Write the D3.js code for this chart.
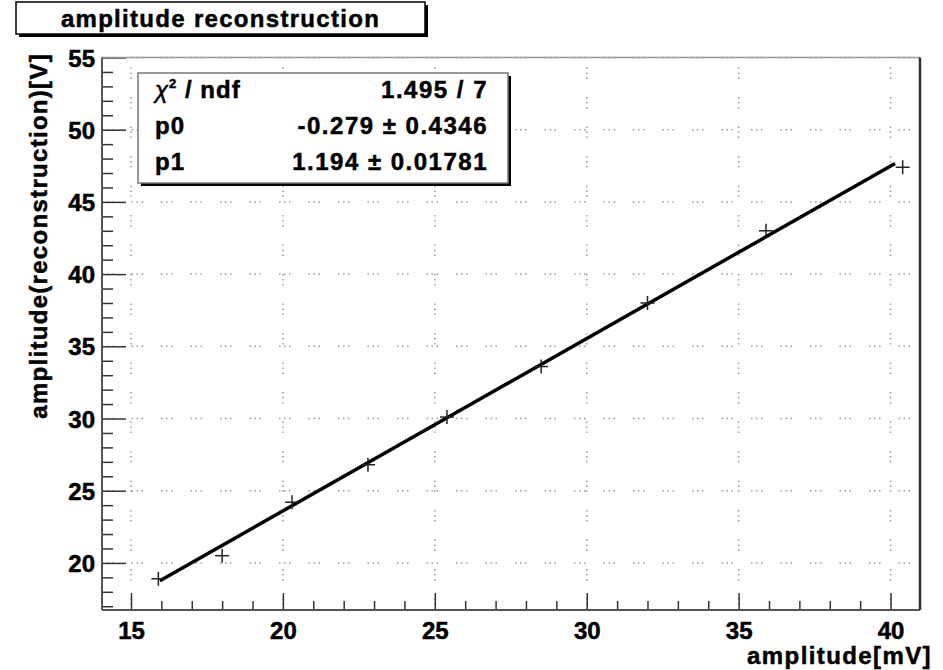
<!DOCTYPE html>
<html>
<head>
<meta charset="utf-8">
<title>amplitude reconstruction</title>
<script src="https://cdn.jsdelivr.net/npm/d3@7"></script>
<style>
  body { margin: 0; background: #fff; }
  text { font-family: "Liberation Sans", Arial, sans-serif; font-weight: bold; fill: #000; stroke: #000; stroke-width: 0.5px; }
</style>
</head>
<body>
<script>
// measured points (amplitude in mV, reconstructed amplitude in V)
var ampIn = [15.9, 18.0, 20.3, 22.8, 25.4, 28.5, 32.0, 35.9, 40.4];
var ampReco = [18.9, 20.5, 24.2, 26.8, 30.1, 33.6, 38.0, 43.0, 47.4];

// linear fit pol1: y = p0 + p1*x
var fitP0 = -0.279;
var fitP1 = 1.194;
var fitRange = [15.95, 40.15];

var xTicks = [15, 20, 25, 30, 35, 40];
var yTicks = [20, 25, 30, 35, 40, 45, 50, 55];

var statLabels = ['χ2 / ndf', 'p0', 'p1'];
var statValues = ['1.495 / 7', '-0.279 ± 0.4346', '1.194 ± 0.01781'];

var W = 943, H = 670;
var fx0 = 102, fx1 = 920, fy0 = 57.5, fy1 = 610;

var svg = d3.select('body').append('svg')
  .attr('width', W)
  .attr('height', H);

var x = d3.scaleLinear().domain([14.045, 40.97]).range([fx0, fx1]);
var y = d3.scaleLinear().domain([16.74, 55]).range([fy1, fy0]);

// grid (dotted)
var dash = '1.5,3.5,1.5,3.5,1.5,18';
svg.append('g').selectAll('line')
  .data(xTicks)
  .enter().append('line')
  .attr('x1', function(d) { return x(d); })
  .attr('x2', function(d) { return x(d); })
  .attr('y1', fy1)
  .attr('y2', fy0)
  .attr('stroke', '#9a9a9a')
  .attr('stroke-width', 1.5)
  .attr('stroke-dasharray', dash);

svg.append('g').selectAll('line')
  .data(yTicks)
  .enter().append('line')
  .attr('x1', fx0)
  .attr('x2', fx1)
  .attr('y1', function(d) { return y(d); })
  .attr('y2', function(d) { return y(d); })
  .attr('stroke', '#9a9a9a')
  .attr('stroke-width', 1.5)
  .attr('stroke-dasharray', dash);

// minor ticks
var xMinor = d3.range(15, 41, 1).filter(function(d) { return d % 5 != 0; });
var yMinor = d3.range(17, 55, 1).filter(function(d) { return d % 5 != 0; });

var xAxisMinor = d3.axisBottom(x).tickValues(xMinor).tickSizeInner(-9).tickSizeOuter(0).tickFormat('');
var yAxisMinor = d3.axisLeft(y).tickValues(yMinor).tickSizeInner(-11).tickSizeOuter(0).tickFormat('');
var xAxis = d3.axisBottom(x).tickValues(xTicks).tickSizeInner(-17).tickSizeOuter(0).tickPadding(6);
var yAxis = d3.axisLeft(y).tickValues(yTicks).tickSizeInner(-24).tickSizeOuter(0).tickPadding(7);

function styleAxis(g) {
  g.select('.domain').remove();
  g.selectAll('line').attr('stroke', '#333').attr('stroke-width', 1.5);
  g.selectAll('text')
    .style('font-family', '"Liberation Sans", Arial, sans-serif')
    .style('font-weight', 'bold')
    .style('font-size', '24px')
    .attr('fill', '#000');
}

svg.append('g').attr('transform', 'translate(0,' + fy1 + ')').call(xAxisMinor).call(styleAxis);
svg.append('g').attr('transform', 'translate(' + fx0 + ',0)').call(yAxisMinor).call(styleAxis);
var gx = svg.append('g').attr('transform', 'translate(0,' + fy1 + ')').call(xAxis).call(styleAxis);
var gy = svg.append('g').attr('transform', 'translate(' + fx0 + ',0)').call(yAxis).call(styleAxis);
gx.selectAll('text').attr('dy', '0.95em');
gy.selectAll('text').attr('dy', '0.36em');

// frame
svg.append('line').attr('x1', fx0).attr('x2', fx1).attr('y1', fy0).attr('y2', fy0)
  .attr('stroke', '#999').attr('stroke-width', 1.5);
svg.append('line').attr('x1', fx0).attr('x2', fx0).attr('y1', fy0).attr('y2', fy1)
  .attr('stroke', '#555').attr('stroke-width', 2);
svg.append('line').attr('x1', fx0).attr('x2', fx1).attr('y1', fy1).attr('y2', fy1)
  .attr('stroke', '#555').attr('stroke-width', 2);
svg.append('line').attr('x1', fx1).attr('x2', fx1).attr('y1', fy0).attr('y2', fy1)
  .attr('stroke', '#333').attr('stroke-width', 2.5);

// fit line
var fitPts = fitRange.map(function(v) { return [v, fitP0 + fitP1 * v]; });
svg.append('path')
  .datum(fitPts)
  .attr('d', d3.line().x(function(d) { return x(d[0]); }).y(function(d) { return y(d[1]); }))
  .attr('fill', 'none')
  .attr('stroke', '#000')
  .attr('stroke-width', 3.5);

// data markers (+)
var pts = ampIn.map(function(v, i) { return [v, ampReco[i]]; });
var mk = svg.append('g').selectAll('g')
  .data(pts)
  .enter().append('g')
  .attr('transform', function(d) { return 'translate(' + x(d[0]) + ',' + y(d[1]) + ')'; });
mk.append('line').attr('x1', -7).attr('x2', 7).attr('y1', 0).attr('y2', 0)
  .attr('stroke', '#222').attr('stroke-width', 1.5);
mk.append('line').attr('x1', 0).attr('x2', 0).attr('y1', -7).attr('y2', 7)
  .attr('stroke', '#222').attr('stroke-width', 1.5);

// title box
svg.append('rect').attr('x', 19).attr('y', 5).attr('width', 409).attr('height', 32).attr('fill', '#000');
svg.append('rect').attr('x', 16).attr('y', 2).attr('width', 409).attr('height', 32)
  .attr('fill', '#fff').attr('stroke', '#000').attr('stroke-width', 1.5);
svg.append('text')
  .attr('x', 220.5).attr('y', 27)
  .attr('text-anchor', 'middle')
  .style('font-size', '24px')
  .style('letter-spacing', '1.3px')
  .text('amplitude reconstruction');

// stats box
var sx0 = 138, sy0 = 73, sw = 370, sh = 110;
svg.append('rect').attr('x', sx0 + 3).attr('y', sy0 + 3).attr('width', sw).attr('height', sh).attr('fill', '#000');
svg.append('rect').attr('x', sx0).attr('y', sy0).attr('width', sw).attr('height', sh)
  .attr('fill', '#fff').attr('stroke', '#777').attr('stroke-width', 1.5);

var rowY = [98, 134, 170];
statLabels.forEach(function(lab, i) {
  var t = svg.append('text')
    .attr('x', 155).attr('y', rowY[i])
    .style('font-size', '24px')
    .style('letter-spacing', '1px');
  if (i == 0) {
    t.append('tspan').style('font-style', 'italic').style('font-weight', 'normal').text('χ');
    t.append('tspan').attr('dy', -10).style('font-size', '13px').text('2');
    t.append('tspan').attr('dy', 10).text(' / ndf');
  } else {
    t.text(lab);
  }
  svg.append('text')
    .attr('x', 488).attr('y', rowY[i])
    .attr('text-anchor', 'end')
    .style('font-size', '24px')
    .style('letter-spacing', '1.5px')
    .text(statValues[i]);
});

// axis titles
svg.append('text')
  .attr('x', 932).attr('y', 664)
  .attr('text-anchor', 'end')
  .style('font-size', '24px')
  .style('letter-spacing', '1.4px')
  .text('amplitude[mV]');

svg.append('text')
  .attr('transform', 'translate(47,53) rotate(-90)')
  .attr('text-anchor', 'end')
  .style('font-size', '24px')
  .style('letter-spacing', '1.3px')
  .text('amplitude(reconstruction)[V]');
</script>
</body>
</html>
